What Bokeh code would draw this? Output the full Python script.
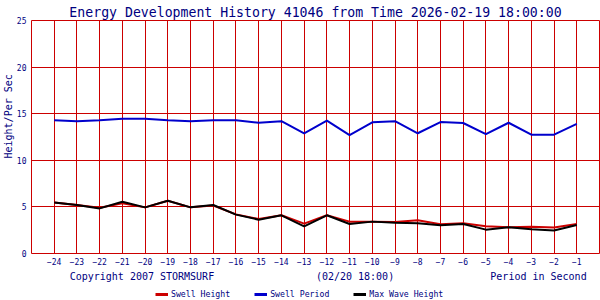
from bokeh.plotting import figure
from bokeh.layouts import column
from bokeh.models import (LinearAxis, FixedTicker, Range1d, Legend, LegendItem, Title)
from bokeh.embed import file_html
from bokeh.resources import INLINE

# ---- data ----
hours = list(range(-24, 0))
swell_height = [5.48, 5.2, 4.9, 5.4, 4.95, 5.66, 4.95, 5.15, 4.2, 3.7, 4.1, 3.2,
                4.1, 3.42, 3.42, 3.38, 3.56, 3.13, 3.24, 2.92, 2.81, 2.88, 2.78, 3.17]
swell_period = [14.3, 14.2, 14.3, 14.45, 14.45, 14.3, 14.2, 14.3, 14.3, 14.03, 14.2, 12.9,
                14.25, 12.7, 14.07, 14.2, 12.9, 14.1, 14.0, 12.8, 14.03, 12.75, 12.75, 13.9]
max_wave = [5.48, 5.2, 4.84, 5.56, 4.95, 5.66, 4.95, 5.2, 4.17, 3.63, 4.1, 2.92,
            4.1, 3.17, 3.42, 3.3, 3.24, 3.03, 3.17, 2.56, 2.81, 2.6, 2.46, 3.06]
y_ticks = [0, 5, 10, 15, 20, 25]
grid_x = list(range(-25, 1))
title_text = "Energy Development History 41046 from Time 2026-02-19 18:00:00"
y_label = "Height/Per Sec"
footer_texts = ["Copyright 2007 STORMSURF", "(02/20 18:00)", "Period in Second"]
footer_pos = [-20.14, -10.76, -2.685]
legend_labels = ["Swell Height", "Swell Period", "Max Wave Height"]

NAVY = "#000080"
RED = "#cc0000"
BLUE = "#0000cc"
FONT = "DejaVu Sans Mono"

p = figure(width=600, height=284, output_backend="svg", toolbar_location=None,
           x_range=Range1d(-25, 0), y_range=Range1d(0, 25),
           min_border_left=31, min_border_right=1, min_border_top=20, min_border_bottom=30,
           background_fill_color="white", border_fill_color="white",
           outline_line_color=RED, outline_line_width=1)

p.title.text = title_text
p.title.align = "center"
p.title.vertical_align = "top"
p.title.text_font = FONT
p.title.text_font_size = "13.2px"
p.title.text_font_style = "normal"
p.title.text_color = NAVY
p.title.standoff = -3

# grids
p.xgrid.ticker = FixedTicker(ticks=grid_x)
p.ygrid.ticker = FixedTicker(ticks=y_ticks)
for g in (p.xgrid, p.ygrid):
    g.grid_line_color = RED
    g.grid_line_alpha = 1
    g.grid_line_width = 1

# x axis
xa = p.xaxis[0]
xa.ticker = FixedTicker(ticks=hours)
xa.axis_line_color = None
xa.major_tick_line_color = None
xa.minor_tick_line_color = None
xa.major_tick_out = 0
xa.major_tick_in = 0
xa.minor_tick_out = 0
xa.major_label_text_font = FONT
xa.major_label_text_font_size = "8px"
xa.major_label_text_color = NAVY
xa.major_label_standoff = 4

# y axis
ya = p.yaxis[0]
ya.ticker = FixedTicker(ticks=y_ticks)
ya.axis_line_color = None
ya.major_tick_line_color = None
ya.minor_tick_line_color = None
ya.major_tick_out = 0
ya.major_tick_in = 0
ya.minor_tick_out = 0
ya.major_label_text_font = FONT
ya.major_label_text_font_size = "8px"
ya.major_label_text_color = NAVY
ya.major_label_standoff = 5

# y label as a side title, starting above the frame bottom like the reference
yt = Title(text=y_label, align="left", offset=95, vertical_align="bottom", standoff=0,
           text_font=FONT, text_font_size="10px", text_font_style="normal", text_color=NAVY)
p.add_layout(yt, "left")

# footer axis
fa = LinearAxis(ticker=FixedTicker(ticks=footer_pos),
                major_label_overrides={v: t for v, t in zip(footer_pos, footer_texts)},
                axis_line_color=None, major_tick_line_color=None, minor_tick_line_color=None,
                major_tick_out=0, major_tick_in=0, minor_tick_out=0,
                major_label_text_font=FONT, major_label_text_font_size="10px",
                major_label_text_color=NAVY, major_label_standoff=3)
p.add_layout(fa, "below")

# series
p.line(hours, swell_height, line_color=RED, line_width=2)
p.line(hours, swell_period, line_color=BLUE, line_width=2)
p.line(hours, max_wave, line_color="black", line_width=2)

# legend strip (its frame is aligned with the main frame: x 31..599)
q = figure(width=600, height=16, output_backend="svg", toolbar_location=None,
           x_range=Range1d(1000, 1001), y_range=Range1d(1000, 1001),
           x_axis_location=None, y_axis_location=None,
           min_border_left=0, min_border_right=0, min_border_top=0, min_border_bottom=0,
           background_fill_color="white", border_fill_color="white",
           outline_line_color=None)
q.grid.visible = False
items = []
for lab, col, ys in zip(legend_labels, [RED, BLUE, "black"],
                        [swell_height, swell_period, max_wave]):
    rr = q.line(hours, ys, line_color=col, line_width=3)
    items.append(LegendItem(label=lab, renderers=[rr]))
legend = Legend(items=items, orientation="horizontal", location=(124, 1),
                border_line_color=None, background_fill_alpha=0,
                label_text_font=FONT, label_text_font_size="8.2px", label_text_color=NAVY,
                glyph_width=13, glyph_height=8, label_standoff=3, spacing=24,
                padding=0, margin=0, label_height=8)
q.add_layout(legend, "center")

layout = column(p, q, spacing=0)
open("out.html", "w").write(file_html(layout, INLINE))
